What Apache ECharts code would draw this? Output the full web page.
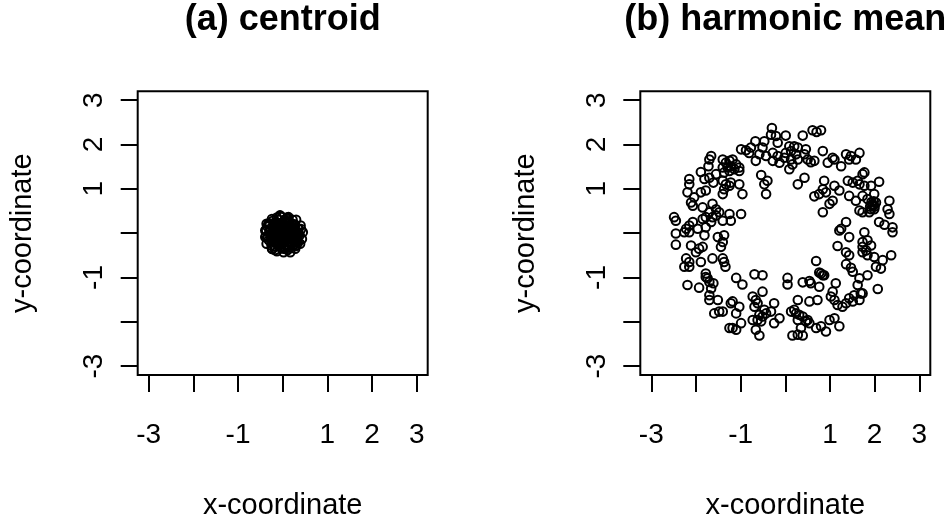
<!DOCTYPE html>
<html><head><meta charset="utf-8">
<script src="https://cdn.jsdelivr.net/npm/echarts@6/dist/echarts.min.js"></script>
<style>html,body{margin:0;padding:0;background:#fff}#c{width:952px;height:525px}</style>
</head><body><div id="c"></div>
<script>
const tickValues = [-3, -2, -1, 0, 1, 2, 3];
const tickLabels = [-3, -1, 1, 2, 3];
const panelTitles = ['(a) centroid', '(b) harmonic mean'];
const xName = 'x-coordinate';
const yName = 'y-coordinate';

const centX = [-0.06,0.13,0.30,0.40,0.45,0.43,0.39,0.28,0.17,0.02,-0.13,-0.24,-0.36,-0.39,-0.39,-0.36,-0.24,
  0,0.1,-0.1,0.1,-0.1,0.2,-0.2,0,0,0.2,-0.2,0.2,-0.2,0.3,-0.28,0.05,-0.05,0.25,-0.15,0.15,-0.25,0.12,0.32,-0.3,0.05,-0.08,0.18,-0.12,0.08,0.28,-0.22,0.02,-0.18,0.22,0.35,-0.33,0.1,-0.05,
  0.04,-0.03,0.14,-0.16,0.07,-0.07,0.24,-0.24,0.33,-0.32,0.12,-0.11,0.27,-0.26,0.02,-0.01,0.18,-0.19,0.06,-0.09,
  0.15,-0.15,0.05,-0.05,0.25,-0.25,0.1,-0.1,0.3,-0.2,0.2,0,0.15,-0.15,0.35,-0.35,0.08,-0.08,0.22,-0.22,0.12,-0.12,0.28,-0.3,0.05,-0.02,0.18,-0.18,0.38,-0.34,
  0.03,-0.04,0.09,-0.09,0.16,-0.17,0.21,-0.21,0.26,-0.27,0.31,-0.29,0.36,-0.37,0.01,0.11,-0.13,0.19,-0.06,0.13,-0.23,0.34,-0.31,0.24,-0.11,0.06,-0.01,0.29,-0.17,0.41];
const centY = [0.39,0.36,0.30,0.17,0.02,-0.13,-0.24,-0.35,-0.43,-0.43,-0.41,-0.35,-0.24,-0.09,0.06,0.21,0.32,
  0,0.1,0.1,-0.1,-0.1,0,0,0.2,-0.2,0.2,0.2,-0.2,-0.2,0.05,0.1,0.3,-0.3,-0.1,0.25,0.25,-0.15,-0.28,-0.05,0.02,0.12,0.05,0.08,-0.18,-0.15,0.18,0.28,-0.35,-0.3,-0.3,0.1,-0.1,0.35,0.38,
  0.05,-0.06,-0.04,0.06,0.22,-0.22,0.1,-0.06,-0.18,0.2,0.32,-0.27,-0.25,-0.05,0.15,-0.14,-0.1,0.14,-0.02,0.23,
  0.15,-0.05,0.25,-0.15,0.05,-0.28,-0.3,0.3,-0.15,0.15,0.1,0.08,-0.22,0.12,0.1,-0.1,-0.12,0.18,0.3,0,0.02,-0.02,-0.2,0.22,-0.32,0.36,0.12,-0.12,-0.05,0.15,
  0.27,-0.33,0.33,-0.01,-0.33,0.03,0.12,-0.12,0.2,-0.07,-0.16,0.19,-0.02,0.07,-0.08,-0.38,0.35,-0.24,0.4,0.07,-0.36,-0.22,-0.16,0.13,0.07,0.26,-0.16,-0.29,-0.38,0.09];

const harmX = [-0.30,-0.32,-0.21,0.01,0.39,0.61,0.70,0.80,-0.67,-0.47,-0.17,-0.51,0.09,0.20,0.28,0.13,0.01,0.24,0.13,0.28,0.16,0.09,-0.02,0.46,0.43,0.50,0.57,0.65,-0.99,-0.88,-0.81,-0.77,-0.58,-0.43,-0.28,-0.17,-0.13,-0.28,-0.66,0.84,0.95,1.10,1.06,1.36,1.47,1.66,1.58,1.43,1.25,0.43,0.28,-0.54,-0.40,-0.47,-0.43,
  -1.66,-1.70,-1.72,-1.40,-1.33,-1.25,-1.18,-1.10,-1.40,-1.29,-1.22,-1.14,-1.03,-1.03,-1.37,-1.25,-1.89,-1.81,-1.70,-1.55,-2.15,-2.15,-1.61,-1.40,-1.33,-1.22,-1.78,-1.37,-1.25,-1.40,-1.03,-0.96,-2.19,-2.04,-1.89,-2.11,-2.07,-1.85,-1.63,-1.55,-1.70,-1.78,-1.63,-1.55,-1.48,-1.25,-0.99,-1.22,-1.40,-2.49,-2.45,-1.85,-1.66,-2.07,-2.15,-2.22,-2.26,-2.15,-1.96,-1.78,-2.45,-2.45,-1.81,-1.51,-1.37,-1.40,-1.44,-1.85,-1.93,-2.11,-2.00,-1.63,-1.40,-1.37,-1.34,-2.22,-2.15,-2.26,-2.15,-1.89,-1.78,-1.74,-1.70,-1.61,-1.66,-1.78,-2.19,-1.93,-1.70,-1.70,-1.51,-1.10,-0.96,
  -0.69,-0.51,0.05,0.05,0.39,0.54,0.57,0.76,0.80,0.87,1.13,1.06,1.02,1.10,1.17,1.28,1.36,-0.51,-0.73,-0.66,-0.62,-0.69,-0.47,-1.18,-1.22,-1.03,-0.25,-1.59,-1.48,-1.40,-1.10,-0.58,-0.51,-0.43,-0.32,-0.73,-0.62,-0.54,-0.25,-0.13,-0.66,-0.58,0.28,0.54,0.72,0.13,0.20,0.24,0.31,0.28,0.39,0.50,0.35,0.46,0.54,-1.25,-1.18,-1.10,-0.99,0.16,0.28,0.39,0.69,0.80,0.91,0.99,1.10,1.21,1.43,1.51,1.66,1.69,1.54,
  1.40,1.51,1.62,1.73,1.77,1.66,1.77,1.92,2.10,1.10,1.21,0.87,0.84,0.91,0.76,0.65,1.43,1.58,1.73,1.84,1.99,2.33,1.06,0.99,0.84,1.66,1.73,1.88,1.96,2.03,1.99,1.92,2.29,2.33,2.10,2.22,2.40,2.40,1.36,1.25,1.21,1.43,1.77,1.84,1.73,1.73,1.81,1.92,1.84,1.73,1.99,1.17,1.36,1.43,1.36,1.47,1.51,1.66,1.62,2.37,2.18,2.03,2.14,1.84,2.07,1.73,0.69,0.76,0.84,
  1.95,1.90,2.00,1.93,1.98];
const harmY = [2.37,2.22,2.19,2.20,2.20,2.32,2.28,2.32,2.07,2.07,2.04,1.93,1.96,1.96,1.93,1.85,1.81,1.78,1.66,1.66,1.55,1.44,1.70,1.89,1.78,1.66,1.60,1.63,1.89,1.87,1.81,1.93,1.78,1.74,1.81,1.74,1.59,1.63,1.63,1.85,1.59,1.66,1.70,1.78,1.74,1.81,1.66,1.66,1.51,1.25,1.10,1.31,1.18,1.10,0.88,
  1.74,1.66,1.51,1.66,1.59,1.63,1.66,1.55,1.48,1.48,1.51,1.44,1.48,1.40,1.37,1.40,1.38,1.22,1.25,1.33,1.22,1.10,1.14,1.18,1.10,1.14,0.96,0.99,1.07,0.88,1.10,0.88,0.92,0.81,0.92,0.69,0.62,0.58,0.66,0.54,0.47,0.36,0.36,0.40,0.47,0.43,0.43,0.28,0.28,0.36,0.28,0.32,0.25,0.25,0.17,0.10,0.02,0.02,0.10,0.13,-0.01,-0.26,-0.05,-0.09,-0.05,-0.20,-0.31,-0.31,-0.35,-0.28,-0.43,-0.57,-0.57,-0.65,-0.76,-0.57,-0.65,-0.76,-0.76,-0.65,-0.91,-1.02,-1.10,-1.13,-1.25,-0.99,-1.17,-1.23,-1.40,-1.51,-1.51,-1.01,-1.16,
  -0.93,-0.95,-1.01,-1.16,-1.11,-1.08,-1.13,-1.21,-0.91,-0.95,-1.13,-1.32,-1.43,-1.51,-1.62,-1.66,-1.58,-1.32,-1.43,-1.51,-1.58,-1.66,-1.73,-1.54,-1.58,-1.66,-1.58,-1.81,-1.77,-1.77,-1.81,-1.84,-1.88,-1.81,-1.77,-1.96,-1.96,-1.99,-2.03,-1.92,-2.18,-2.31,-1.51,-1.54,-1.51,-1.77,-1.73,-1.81,-1.84,-1.96,-1.88,-1.96,-2.14,-1.99,-2.03,-2.14,-2.14,-2.18,-2.03,-2.31,-2.29,-2.31,-2.14,-2.10,-2.22,-1.96,-1.92,-2.10,-1.47,-1.54,-1.51,-1.36,-1.40,
  1.18,1.14,1.18,1.33,1.37,1.10,1.07,1.07,1.16,1.07,0.96,1.18,0.99,0.92,0.88,0.83,0.84,0.73,0.84,0.77,0.88,0.73,0.73,0.66,0.47,0.51,0.47,0.47,0.62,0.69,0.54,0.54,0.54,0.43,0.25,0.19,0.13,0.02,0.25,0.10,0.06,-0.09,0.02,-0.16,-0.20,-0.31,-0.39,-0.28,-0.50,-0.43,-0.54,-0.29,-0.43,-0.50,-0.70,-0.78,-0.87,-1.02,-1.17,-0.50,-0.61,-0.76,-0.80,-0.95,-1.26,-1.36,-0.63,-0.89,-0.95,
  0.65,0.60,0.60,0.70,0.72];

function zip(xs, ys) { return xs.map((v, i) => [v, ys[i]]); }

const font = 'Liberation Sans, Arial, Helvetica, sans-serif';
const unitX = 44.67, unitY = 44.7;
const xHalf = 3.246, yHalf = 3.2;
const centersX = [282.7, 785.3];
const zeroY = 234.3;

const grids = [], xAxes = [], yAxes = [], series = [], titles = [];
const sets = [[centX, centY], [harmX, harmY]];
for (let i = 0; i < 2; i++) {
  grids.push({
    left: centersX[i] - xHalf * unitX, width: 2 * xHalf * unitX,
    top: zeroY - yHalf * unitY, height: 2 * yHalf * unitY,
    show: true, borderColor: '#000', borderWidth: 2, backgroundColor: 'rgba(0,0,0,0)'
  });
  xAxes.push({
    gridIndex: i, type: 'value', min: -xHalf, max: xHalf,
    axisLine: { show: false, onZero: false }, splitLine: { show: false },
    axisTick: { show: true, customValues: tickValues, length: 17, lineStyle: { color: '#000', width: 2 } },
    axisLabel: { customValues: tickLabels, margin: 46, fontSize: 28, color: '#000', fontFamily: font, showMinLabel: true, showMaxLabel: true },
    name: xName, nameLocation: 'middle', nameGap: 116,
    nameTextStyle: { fontSize: 29, color: '#000', fontFamily: font }
  });
  yAxes.push({
    gridIndex: i, type: 'value', min: -yHalf, max: yHalf,
    axisLine: { show: false, onZero: false }, splitLine: { show: false },
    axisTick: { show: true, customValues: tickValues, length: 17, lineStyle: { color: '#000', width: 2 } },
    axisLabel: { customValues: tickLabels, margin: 29, fontSize: 28, rotate: 90, color: '#000', fontFamily: font, showMinLabel: true, showMaxLabel: true },
    name: yName, nameLocation: 'middle', nameGap: 100,
    nameTextStyle: { fontSize: 29, color: '#000', fontFamily: font }
  });
  series.push({
    type: 'scatter', xAxisIndex: i, yAxisIndex: i,
    data: zip(sets[i][0], sets[i][1]),
    symbol: 'circle', symbolSize: 8.6,
    itemStyle: { color: 'rgba(0,0,0,0)', borderColor: '#000', borderWidth: 2, opacity: 1 },
    emphasis: { disabled: true }, silent: true
  });
  titles.push({
    text: panelTitles[i], left: centersX[i], top: 2, padding: 0, textAlign: 'center',
    textStyle: { fontSize: 36, fontWeight: 'bold', color: '#000', fontFamily: font }
  });
}

const chart = echarts.init(document.getElementById('c'), null, { renderer: 'canvas' });
chart.setOption({
  animation: false, backgroundColor: '#fff',
  title: titles, grid: grids, xAxis: xAxes, yAxis: yAxes, series: series
});
</script></body></html>
